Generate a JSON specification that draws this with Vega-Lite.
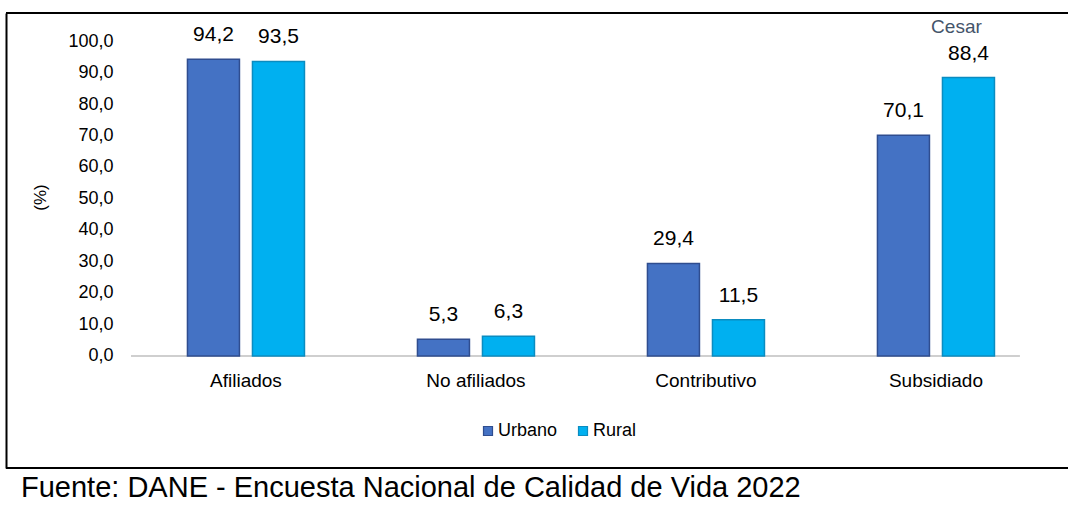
{
  "$schema": "https://vega.github.io/schema/vega-lite/v6.json",
  "width": 1062,
  "height": 455,
  "padding": {"left": 5, "top": 12, "right": 0, "bottom": 0},
  "autosize": {"type": "pad"},
  "background": "white",
  "view": {"stroke": null},
  "title": {
    "text": "Fuente: DANE - Encuesta Nacional de Calidad de Vida 2022",
    "orient": "bottom",
    "anchor": "start",
    "dx": 16,
    "offset": 5,
    "fontSize": 29,
    "fontWeight": "normal",
    "color": "black",
    "baseline": "top",
    "font": "Liberation Sans"
  },
  "config": {
    "locale": {"number": {"decimal": ",", "thousands": ".", "grouping": [3], "currency": ["$", ""]}},
    "font": "Liberation Sans",
    "view": {"stroke": null},
    "axisX": {"domain": false, "ticks": false, "tickSize": 0, "grid": false, "labelPadding": 15, "labelFontSize": 19, "labelColor": "black", "labelAngle": 0, "labelFont": "Liberation Sans"},
    "axisY": {"domain": false, "ticks": false, "tickSize": 0, "grid": false, "labelPadding": 3, "labelFontSize": 18, "labelColor": "black", "labelFont": "Liberation Sans", "titleFont": "Liberation Sans", "titleFontSize": 17, "titleFontWeight": "normal", "titleColor": "black", "titlePadding": 18}
  },
  "datasets": {
    "barras": [
      {"categoria": "Afiliados", "zona": "Urbano", "valor": 94.2},
      {"categoria": "Afiliados", "zona": "Rural", "valor": 93.5},
      {"categoria": "No afiliados", "zona": "Urbano", "valor": 5.3},
      {"categoria": "No afiliados", "zona": "Rural", "valor": 6.3},
      {"categoria": "Contributivo", "zona": "Urbano", "valor": 29.4},
      {"categoria": "Contributivo", "zona": "Rural", "valor": 11.5},
      {"categoria": "Subsidiado", "zona": "Urbano", "valor": 70.1},
      {"categoria": "Subsidiado", "zona": "Rural", "valor": 88.4}
    ],
    "base": [{"desde": "Afiliados", "hasta": "Subsidiado", "nivel": 0}],
    "bordes": [{"nivel": 108.89}, {"nivel": -35.56}],
    "nota": [{"categoria": "Subsidiado", "zona": "Rural", "nivel": 104.4, "texto": "Cesar"}]
  },
  "resolve": {"axis": {"y": "independent"}},
  "layer": [
    {
      "data": {"name": "nota"},
      "mark": {"type": "text", "baseline": "middle", "dx": -12, "fontSize": 19, "color": "#44546a", "font": "Liberation Sans"},
      "encoding": {
        "x": {"field": "categoria", "type": "nominal", "title": null,
              "scale": {"type": "band", "domain": ["Afiliados", "No afiliados", "Contributivo", "Subsidiado"], "paddingInner": 0, "paddingOuter": 0.3087, "align": 0.88},
              "axis": {"offset": -112}},
        "xOffset": {"field": "zona", "type": "nominal", "scale": {"domain": ["Urbano", "Rural"], "paddingInner": 0.2, "paddingOuter": 0.869}},
        "y": {"field": "nivel", "type": "quantitative", "title": null,
              "scale": {"domain": [-35.56, 108.89], "nice": false, "zero": false},
              "axis": {"orient": "left", "offset": 0, "title": null, "labels": false, "ticks": false, "domain": true, "domainColor": "black", "domainWidth": 2, "grid": false, "values": [-35.56, 108.89]}},
        "text": {"field": "texto", "type": "nominal"}
      }
    },
    {
      "layer": [
        {
          "data": {"name": "bordes"},
          "mark": {"type": "rule", "color": "black", "strokeWidth": 2},
          "encoding": {
            "y": {"field": "nivel", "type": "quantitative", "title": "(%)",
                  "scale": {"domain": [-35.56, 108.89], "nice": false, "zero": false},
                  "axis": {"orient": "left", "offset": -110, "values": [0, 10, 20, 30, 40, 50, 60, 70, 80, 90, 100], "format": ".1f", "titleY": 184}}
          }
        },
        {
          "data": {"name": "base"},
          "mark": {"type": "rule", "color": "#bfbfbf", "strokeWidth": 1.5},
          "encoding": {
            "x": {"field": "desde", "type": "nominal", "bandPosition": 0, "title": null,
                  "scale": {"type": "band", "domain": ["Afiliados", "No afiliados", "Contributivo", "Subsidiado"], "paddingInner": 0, "paddingOuter": 0.3087, "align": 0.88},
                  "axis": {"offset": -112}},
            "x2": {"field": "hasta", "bandPosition": 0.865},
            "y": {"field": "nivel", "type": "quantitative", "title": "(%)",
                  "scale": {"domain": [-35.56, 108.89], "nice": false, "zero": false},
                  "axis": {"orient": "left", "offset": -110, "values": [0, 10, 20, 30, 40, 50, 60, 70, 80, 90, 100], "format": ".1f", "titleY": 184}}
          }
        },
        {
          "data": {"name": "barras"},
          "mark": {"type": "bar", "strokeWidth": 1.5},
          "encoding": {
            "x": {"field": "categoria", "type": "nominal", "title": null,
                  "scale": {"type": "band", "domain": ["Afiliados", "No afiliados", "Contributivo", "Subsidiado"], "paddingInner": 0, "paddingOuter": 0.3087, "align": 0.88},
                  "axis": {"offset": -112}},
            "xOffset": {"field": "zona", "type": "nominal", "scale": {"domain": ["Urbano", "Rural"], "paddingInner": 0.2, "paddingOuter": 0.869}},
            "y": {"field": "valor", "type": "quantitative", "title": "(%)",
                  "scale": {"domain": [-35.56, 108.89], "nice": false, "zero": false},
                  "axis": {"orient": "left", "offset": -110, "values": [0, 10, 20, 30, 40, 50, 60, 70, 80, 90, 100], "format": ".1f", "titleY": 184}},
            "y2": {"datum": 0},
            "color": {"field": "zona", "type": "nominal", "title": null,
                      "scale": {"domain": ["Urbano", "Rural"], "range": ["#4472c4", "#00b0f0"]},
                      "legend": {"orient": "none", "legendX": 473, "legendY": 409, "direction": "horizontal", "title": null, "symbolType": "square", "symbolSize": 81, "symbolStrokeWidth": 1.2, "labelFontSize": 18, "labelFont": "Liberation Sans", "labelColor": "black", "labelOffset": 1, "columnPadding": 16, "padding": 0}},
            "stroke": {"field": "zona", "type": "nominal", "title": null,
                       "scale": {"domain": ["Urbano", "Rural"], "range": ["#2f4d8f", "#0b8cc0"]},
                       "legend": {"orient": "none", "legendX": 473, "legendY": 409, "direction": "horizontal", "title": null, "symbolType": "square", "symbolSize": 81, "symbolStrokeWidth": 1.2, "labelFontSize": 18, "labelFont": "Liberation Sans", "labelColor": "black", "labelOffset": 1, "columnPadding": 16, "padding": 0}}
          }
        },
        {
          "data": {"name": "barras"},
          "mark": {"type": "text", "baseline": "alphabetic", "dy": -18, "fontSize": 21, "color": "black", "font": "Liberation Sans"},
          "encoding": {
            "x": {"field": "categoria", "type": "nominal", "title": null,
                  "scale": {"type": "band", "domain": ["Afiliados", "No afiliados", "Contributivo", "Subsidiado"], "paddingInner": 0, "paddingOuter": 0.3087, "align": 0.88},
                  "axis": {"offset": -112}},
            "xOffset": {"field": "zona", "type": "nominal", "scale": {"domain": ["Urbano", "Rural"], "paddingInner": 0.2, "paddingOuter": 0.869}},
            "y": {"field": "valor", "type": "quantitative", "title": "(%)",
                  "scale": {"domain": [-35.56, 108.89], "nice": false, "zero": false},
                  "axis": {"orient": "left", "offset": -110, "values": [0, 10, 20, 30, 40, 50, 60, 70, 80, 90, 100], "format": ".1f", "titleY": 184}},
            "text": {"field": "valor", "type": "quantitative", "format": ".1f"}
          }
        }
      ]
    }
  ]
}
